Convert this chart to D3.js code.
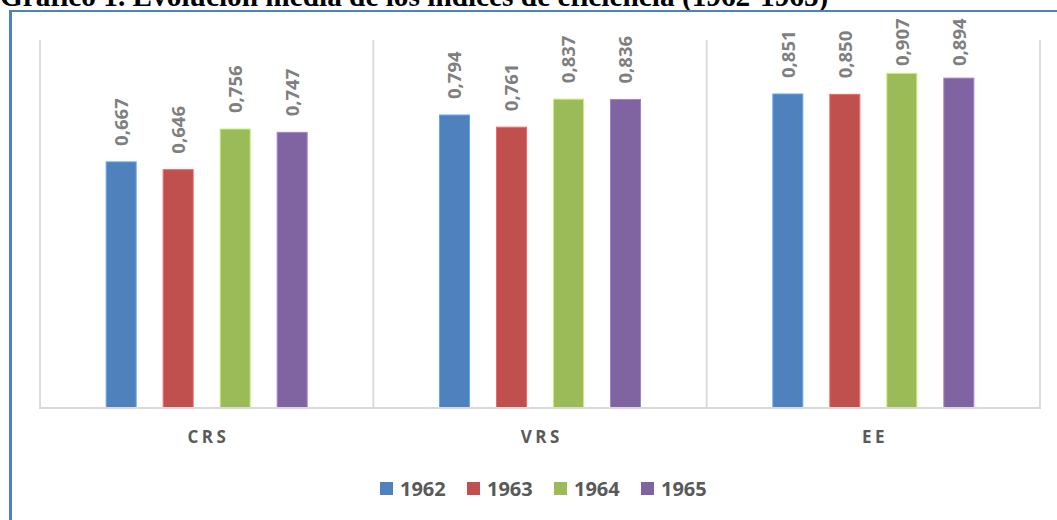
<!DOCTYPE html>
<html>
<head>
<meta charset="utf-8">
<script src="https://cdn.jsdelivr.net/npm/d3@7"></script>
<style>
  html, body { margin: 0; padding: 0; background: #fff; overflow: hidden; }
  #chart { width: 1057px; height: 520px; }
</style>
</head>
<body>
<div id="chart"></div>
<script>
// chart data
var categories = ['CRS', 'VRS', 'EE'];
var years = ['1962', '1963', '1964', '1965'];
var values1962 = [0.667, 0.794, 0.851];
var values1963 = [0.646, 0.761, 0.850];
var values1964 = [0.756, 0.837, 0.907];
var values1965 = [0.747, 0.836, 0.894];
var colors = ['#4f81bd', '#c0504d', '#9bbb59', '#8064a2'];
var titleText = 'Gráfico 1. Evolución media de los índices de eficiencia (1962-1965)';

function fmt (v) {
  return d3.format('.3f')(v).replace('.', ',');
}

function drawChart () {
  var width = 1057;
  var height = 520;
  var plot = { left: 40, right: 1040, top: 39, bottom: 408 };
  var series = [values1962, values1963, values1964, values1965];

  var svg = d3.select('#chart').append('svg')
    .attr('width', width)
    .attr('height', height);

  // title, cut at the top of the page (as in the source)
  svg.append('text')
    .attr('x', 0)
    .attr('y', 6)
    .attr('font-family', '"Liberation Serif", "Times New Roman", serif')
    .attr('font-weight', 'bold')
    .attr('font-size', 29.3)
    .attr('fill', '#000')
    .text(titleText);

  // blue frame of the chart area
  svg.append('line')
    .attr('x1', 10.5).attr('x2', 10.5).attr('y1', 10).attr('y2', height)
    .attr('stroke', '#4f81bd').attr('stroke-width', 3);
  svg.append('line')
    .attr('x1', 9).attr('x2', width).attr('y1', 11).attr('y2', 11)
    .attr('stroke', '#4f81bd').attr('stroke-width', 2.2);

  var x0 = d3.scaleBand()
    .domain(categories)
    .range([plot.left, plot.right]);
  var x1 = d3.scaleBand()
    .domain(years)
    .range([x0.bandwidth() / 2 - 114, x0.bandwidth() / 2 + 114])
    .paddingInner(0.4737)
    .paddingOuter(0.2368);
  var y = d3.scaleLinear()
    .domain([0, 1])
    .range([plot.bottom, plot.top]);

  // category separators
  var seps = categories.map(function (c) { return x0(c); }).concat([plot.right]);
  svg.selectAll('.sep')
    .data(seps)
    .enter().append('line')
    .attr('class', 'sep')
    .attr('x1', function (d) { return d; })
    .attr('x2', function (d) { return d; })
    .attr('y1', plot.top + 1)
    .attr('y2', plot.bottom)
    .attr('stroke', '#d9d9d9')
    .attr('stroke-width', 1.8);

  // bars
  var rows = [];
  categories.forEach(function (c, ci) {
    years.forEach(function (yr, si) {
      rows.push({ cat: c, year: yr, value: series[si][ci], color: colors[si] });
    });
  });

  var groups = svg.selectAll('.grp')
    .data(categories)
    .enter().append('g')
    .attr('class', 'grp')
    .attr('transform', function (c) { return 'translate(' + x0(c) + ',0)'; });

  groups.selectAll('rect')
    .data(function (c) { return rows.filter(function (r) { return r.cat === c; }); })
    .enter().append('rect')
    .attr('x', function (d) { return x1(d.year); })
    .attr('y', function (d) { return y(d.value); })
    .attr('width', x1.bandwidth())
    .attr('height', function (d) { return y(0) - y(d.value); })
    .attr('fill', function (d) { return d.color; })
    .attr('stroke', function (d) { return d3.color(d.color).brighter(0.7); })
    .attr('stroke-width', 1);

  // value labels, rotated
  var labelLen = 48;
  groups.selectAll('.val')
    .data(function (c) { return rows.filter(function (r) { return r.cat === c; }); })
    .enter().append('text')
    .attr('class', 'val')
    .attr('transform', function (d) {
      var cx = x1(d.year) + x1.bandwidth() / 2;
      var cy = Math.max(y(d.value) - 16, 18 + labelLen);
      return 'translate(' + cx + ',' + cy + ') rotate(-90)';
    })
    .attr('dy', '0.36em')
    .attr('font-family', '"Open Sans", sans-serif')
    .attr('font-weight', 'bold')
    .attr('font-size', 18.5)
    .attr('fill', '#7f7f7f')
    .text(function (d) { return fmt(d.value); });

  // baseline
  svg.append('line')
    .attr('x1', plot.left - 1).attr('x2', plot.right + 1)
    .attr('y1', plot.bottom).attr('y2', plot.bottom)
    .attr('stroke', '#d9d9d9').attr('stroke-width', 1.8);

  // category axis
  var spacing = 3.5;
  svg.selectAll('.cat')
    .data(categories)
    .enter().append('text')
    .attr('class', 'cat')
    .attr('x', function (c) { return x0(c) + x0.bandwidth() / 2; })
    .attr('dx', spacing / 2)
    .attr('y', 443)
    .attr('text-anchor', 'middle')
    .attr('letter-spacing', spacing)
    .attr('font-family', '"Open Sans", sans-serif')
    .attr('font-weight', 'bold')
    .attr('font-size', 17)
    .attr('fill', '#595959')
    .text(function (c) { return c; });

  // legend
  var legend = svg.selectAll('.leg')
    .data(years)
    .enter().append('g')
    .attr('class', 'leg')
    .attr('transform', function (d, i) { return 'translate(' + (380 + i * 87) + ',482)'; });
  legend.append('rect')
    .attr('width', 13).attr('height', 13)
    .attr('fill', function (d, i) { return colors[i]; });
  legend.append('text')
    .attr('x', 20)
    .attr('y', 13.5)
    .attr('font-family', '"Open Sans", sans-serif')
    .attr('font-weight', 'bold')
    .attr('font-size', 20)
    .attr('fill', '#595959')
    .text(function (d) { return d; });
}

window.addEventListener('load', function () {
  drawChart();
});
</script>
</body>
</html>
